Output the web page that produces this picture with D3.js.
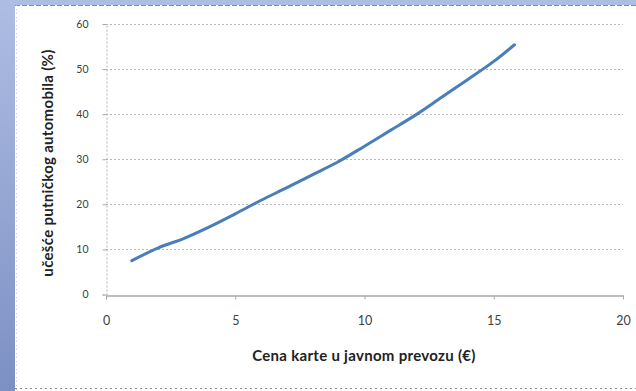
<!DOCTYPE html>
<html>
<head>
<meta charset="utf-8">
<script src="https://cdn.jsdelivr.net/npm/d3@7"></script>
<style>
  html, body { margin: 0; padding: 0; background: #fff; }
  svg { display: block; }
</style>
</head>
<body>
<svg id="chart" width="636" height="391"></svg>
<script>
// Ticket price in public transport (€)
const prices = [1, 2, 3, 4, 5, 6, 7, 8, 9, 10, 11, 12, 13, 14, 15, 15.8];
// Share of passenger cars (%)
const carShare = [7.5, 10.3, 12.4, 15.0, 17.9, 20.9, 23.7, 26.6, 29.5, 32.9, 36.4, 39.9, 43.8, 47.7, 51.7, 55.4];
const xTicks = [0, 5, 10, 15, 20];
const yTicks = [0, 10, 20, 30, 40, 50, 60];
const xTitle = "Cena karte u javnom prevozu (€)";
const yTitle = "učešće putničkog automobila (%)";

const svg = d3.select("#chart");
const W = 636, H = 391;
const font = "Lato, 'Open Sans', sans-serif";

// slide background: blue strips on the left and top
const defs = svg.append("defs");
const grad = defs.append("linearGradient").attr("id", "side").attr("x1", 0).attr("y1", 0).attr("x2", 0).attr("y2", 1);
grad.append("stop").attr("offset", 0).attr("stop-color", "#aebde3");
grad.append("stop").attr("offset", 1).attr("stop-color", "#7d90c4");
svg.append("rect").attr("x", 0).attr("y", 0).attr("width", W).attr("height", H).attr("fill", "url(#side)");

// chart panel
svg.append("rect").attr("x", 15).attr("y", 5).attr("width", W - 15).attr("height", H - 5).attr("fill", "#ffffff");
svg.append("line").attr("x1", 15).attr("x2", W).attr("y1", 5.5).attr("y2", 5.5)
  .attr("stroke", "#8c8c8c").attr("stroke-dasharray", "5,2").attr("stroke-width", 1);
svg.append("line").attr("x1", 15).attr("x2", W).attr("y1", 388.5).attr("y2", 388.5)
  .attr("stroke", "#8c8c8c").attr("stroke-dasharray", "2,3").attr("stroke-width", 1);
svg.append("line").attr("x1", 16.5).attr("x2", 16.5).attr("y1", 5).attr("y2", H)
  .attr("stroke", "#c8c8c8").attr("stroke-dasharray", "1,3").attr("stroke-width", 1);

const x = d3.scaleLinear().domain([0, 20]).range([106, 623]);
const y = d3.scaleLinear().domain([0, 60]).range([294.5, 24]);

// horizontal gridlines
svg.append("g").selectAll("line")
  .data(yTicks.filter(d => d > 0))
  .join("line")
  .attr("x1", x(0)).attr("x2", x(20))
  .attr("y1", d => Math.round(y(d)) + 0.5).attr("y2", d => Math.round(y(d)) + 0.5)
  .attr("stroke", "#b8b8b8").attr("stroke-width", 1).attr("stroke-dasharray", "2,2");

// y axis
const yAxis = svg.append("g").attr("transform", `translate(${x(0) + 0.5},0)`)
  .call(d3.axisLeft(y).tickValues(yTicks).tickSize(4).tickPadding(14).tickFormat(d3.format("d")));
yAxis.select(".domain").attr("stroke", "#b0b0b0").attr("stroke-dasharray", "2,2");
yAxis.selectAll(".tick line").attr("stroke", "#a8a8a8");
yAxis.selectAll(".tick text").attr("font-family", font).attr("font-size", 10.5).attr("fill", "#404040");

// x axis
const xAxis = svg.append("g").attr("transform", `translate(0,${Math.round(y(0)) + 0.5})`)
  .call(d3.axisBottom(x).tickValues(xTicks).tickSize(4).tickPadding(17).tickSizeOuter(0));
xAxis.select(".domain").attr("stroke", "#a8a8a8").attr("stroke-width", 1.5);
xAxis.selectAll(".tick line").attr("stroke", "#a8a8a8");
xAxis.selectAll(".tick text").attr("font-family", font).attr("font-size", 12.5).attr("fill", "#404040");

// data line
const line = d3.line().x((d, i) => x(prices[i])).y(d => y(d)).curve(d3.curveCatmullRom.alpha(0.5));
svg.append("path").datum(carShare)
  .attr("d", line)
  .attr("fill", "none")
  .attr("stroke", "#4a7ebb")
  .attr("stroke-width", 3)
  .attr("stroke-linecap", "round");

// axis titles
svg.append("text")
  .attr("x", 364).attr("y", 361)
  .attr("text-anchor", "middle")
  .attr("font-family", font).attr("font-size", 15).attr("font-weight", "bold")
  .attr("letter-spacing", 0.3).attr("fill", "#222")
  .text(xTitle);
svg.append("text")
  .attr("transform", "translate(53,163) rotate(-90)")
  .attr("text-anchor", "middle")
  .attr("font-family", font).attr("font-size", 15).attr("font-weight", "bold")
  .attr("letter-spacing", 0.3).attr("fill", "#222")
  .text(yTitle);
</script>
</body>
</html>
